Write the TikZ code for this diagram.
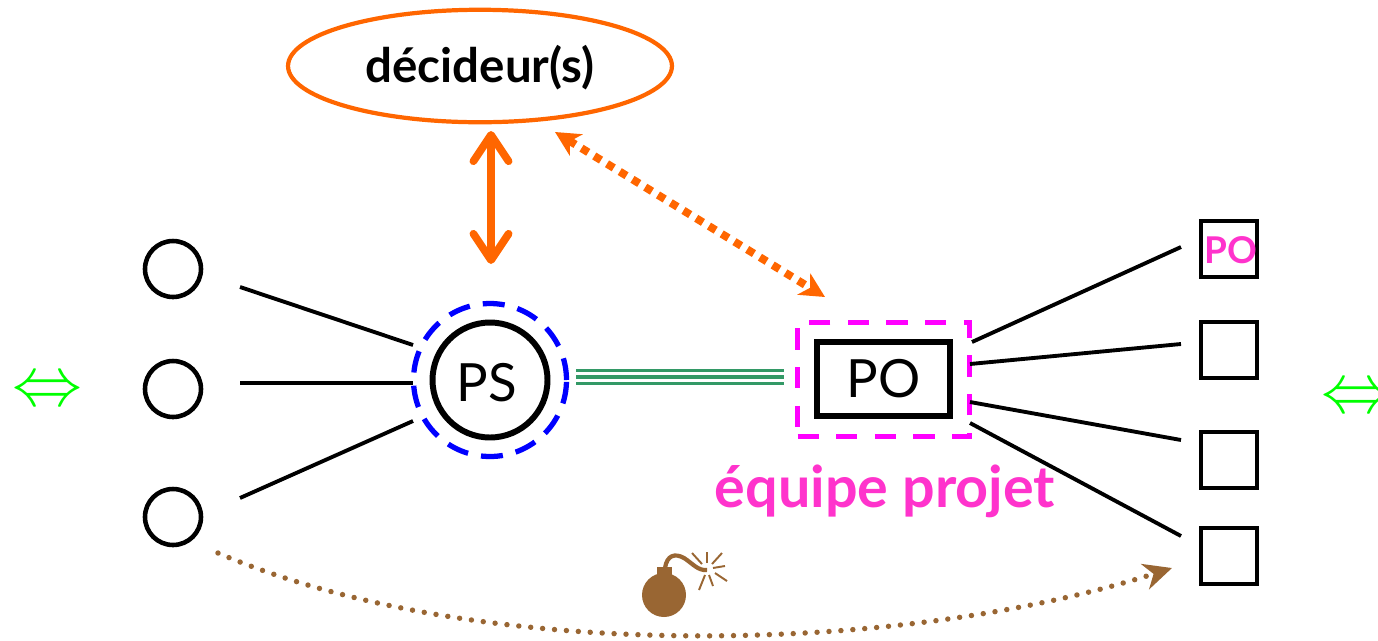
\documentclass[tikz,border=0pt]{standalone}
\usepackage{fontspec}
\setmainfont{Lato}
\usepackage{xcolor}
\usetikzlibrary{positioning, arrows.meta, shapes.geometric}
\definecolor{orangeDec}{HTML}{FF6600}
\definecolor{magentaPO}{HTML}{FF00FF}
\definecolor{pinkPO}{HTML}{FF33CC}
\definecolor{greenLink}{HTML}{339966}
\definecolor{brownBomb}{HTML}{996633}
\definecolor{greenEq}{HTML}{00FF00}

\begin{document}
\begin{tikzpicture}[
    x=0.02cm, y=-0.02cm,
    person/.style={circle, draw, line width=2.6pt, minimum size=1.12cm, inner sep=0pt},
    member/.style={rectangle, draw, line width=2.6pt, minimum size=1.12cm, inner sep=0pt},
    link/.style={line width=2.2pt},
    equiv/.style={text=greenEq, font=\fontsize{24}{24}\selectfont, scale=1.6, inner sep=0pt},
    big/.style={font=\fontsize{30}{32}\selectfont},
    dots/.style={line width=4.5pt, dash pattern=on 4.5pt off 4pt}
]
  \useasboundingbox (0,0) rectangle (1378,640);

  % noeuds principaux
  \node[ellipse, draw=orangeDec, line width=2.4pt, minimum width=7.68cm, minimum height=2.25cm, inner sep=0pt] (dec) at (480,66) {};
  \node[font=\fontsize{27}{30}\selectfont\bfseries, inner sep=0pt] (decText) at (480,68) {décideur(s)};
  \node[circle, draw, line width=3.4pt, minimum size=2.3cm, inner sep=0pt] (ps) at (490,380) {};
  \node[big, inner sep=0pt] (psText) at (487,383) {PS};
  \node[circle, draw=blue, line width=3pt, dash pattern=on 12.5pt off 7.5pt, minimum size=3.06cm, inner sep=0pt] (psring) at (490,380) {};
  \node[rectangle, draw, line width=3.4pt, minimum width=2.66cm, minimum height=1.48cm, inner sep=0pt, big] (po) at (883.5,379) {PO};
  \node[rectangle, draw=magentaPO, line width=2.9pt, dash pattern=on 12pt off 10pt, minimum width=3.44cm, minimum height=2.28cm, inner sep=0pt] (teamBox) at (883.5,379.5) {};
  \node[text=pinkPO, font=\fontsize{32.7}{34}\selectfont\bfseries, inner sep=0pt] (team) at (885,491) {équipe projet};

  % parties prenantes
  \node[person] (s1) at (173,269) {};
  \node[person] (s2) at (173,389) {};
  \node[person] (s3) at (173,517) {};

  % equipe
  \node[member] (m1) at (1229,249) {};
  \node[text=pinkPO, font=\fontsize{21}{22}\selectfont\bfseries, inner sep=0pt] (m1Text) at (1231,250) {PO};
  \node[member] (m2) at (1229,350) {};
  \node[member] (m3) at (1229,460) {};
  \node[member] (m4) at (1229,556) {};

  % equivalences
  \node[equiv] (eqL) at (47,393) {$\Leftrightarrow$};
  \node[equiv] (eqR) at (1356,400) {$\Leftrightarrow$};

  % extremites libres
  \coordinate (a1) at (240,287);  \coordinate (b1) at (413,345);
  \coordinate (a2) at (240,383);  \coordinate (b2) at (413,383);
  \coordinate (a3) at (240,498);  \coordinate (b3) at (413,421);
  \coordinate (c1) at (972,342);  \coordinate (d1) at (1181,247);
  \coordinate (c2) at (970,364);  \coordinate (d2) at (1181,344);
  \coordinate (c3) at (970,402);  \coordinate (d3) at (1181,440);
  \coordinate (c4) at (970,423);  \coordinate (d4) at (1181,536);
  \coordinate (up) at (491,131);  \coordinate (down) at (491,264);
  \coordinate (nw) at (555,132);  \coordinate (se) at (825,297);
  \coordinate (g1) at (576,377);  \coordinate (g2) at (784,377);
  \coordinate (bombL) at (218,553);  \coordinate (bombR) at (1172,568);

  % liens
  \draw[link] (a1) -- (b1);
  \draw[link] (a2) -- (b2);
  \draw[link] (a3) -- (b3);
  \draw[link] (c1) -- (d1);
  \draw[link] (c2) -- (d2);
  \draw[link] (c3) -- (d3);
  \draw[link] (c4) -- (d4);

  % lien triple
  \draw[greenLink, line width=2.8pt] (g1) -- (g2);
  \draw[greenLink, line width=1.4pt] ([yshift=-3.8pt]g1) -- ([yshift=-3.8pt]g2);
  \draw[greenLink, line width=1.4pt] ([yshift=3.8pt]g1) -- ([yshift=3.8pt]g2);

  % fleches orange
  \draw[orangeDec, line width=4.4pt, {Straight Barb[length=15pt, width=20pt, round]}-{Straight Barb[length=15pt, width=20pt, round]}] (up) -- (down);
  \draw[orangeDec, dots, {Stealth[length=14pt, width=14pt, inset=4pt]}-{Stealth[length=14pt, width=14pt, inset=4pt]}] (nw) -- (se);

  % fleche du bas
  \draw[brownBomb, line width=3.1pt, line cap=round, dash pattern=on 0pt off 6.8pt, -{Stealth[length=16pt, width=15pt, inset=5pt]}] (bombL) .. controls (480,665) and (900,655) .. (bombR);

  % bombe
  \node[circle, fill=brownBomb, minimum size=0.88cm, inner sep=0pt] (bomb) at (664,595) {};
  \fill[brownBomb] (657,567) rectangle (672,580);
  \draw[brownBomb, line width=2.4pt] (665,568) .. controls (667,555) and (675,553) .. (684,558) .. controls (692,563) and (698,571) .. (707,570);
  \foreach \xa/\ya/\xb/\yb in {702/564/692/553, 707/563/707/552, 712/564/722/553, 713/568/725/566, 715/573/727/581, 709/575/713/586, 705/575/699/590}
    \draw[brownBomb, line width=1.1pt] (\xa,\ya) -- (\xb,\yb);
\end{tikzpicture}
\end{document}
